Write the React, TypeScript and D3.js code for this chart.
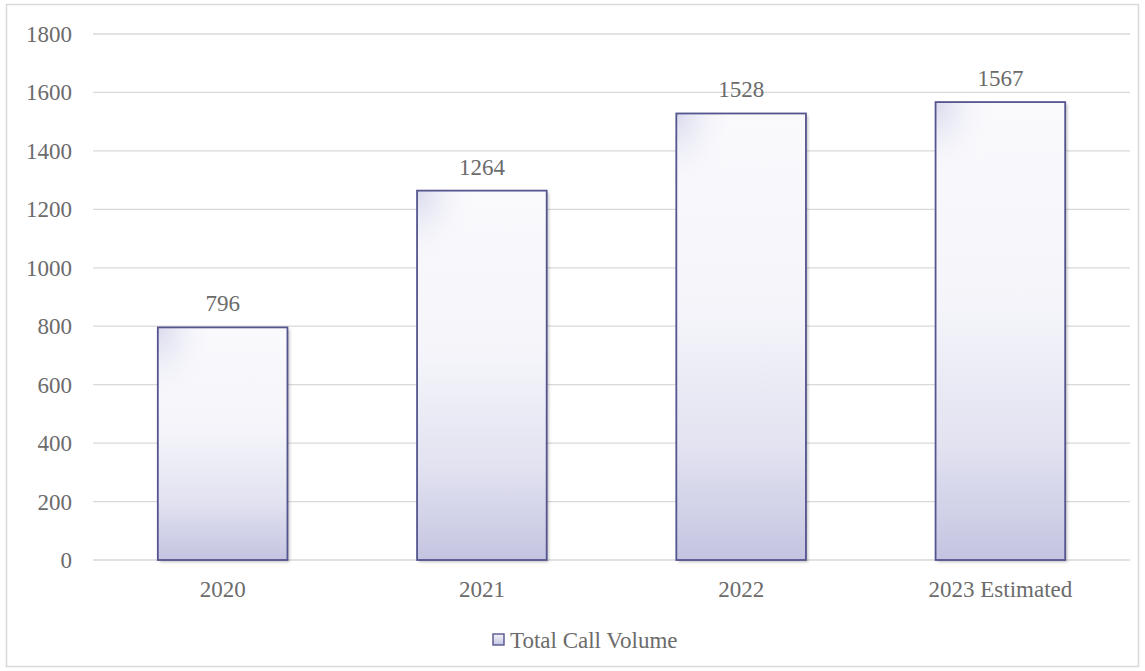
import React from "react";
import * as d3 from "d3";

const categories = ["2020", "2021", "2022", "2023 Estimated"];
const callVolume = [796, 1264, 1528, 1567];
const yTicks = [0, 200, 400, 600, 800, 1000, 1200, 1400, 1600, 1800];
const seriesName = "Total Call Volume";

const W = 1145;
const H = 671;
const plotLeft = 93;
const plotRight = 1130;
const plotTop = 34;
const plotBottom = 560;

export default function App() {
  const x = d3.scaleBand<string>().domain(categories).range([plotLeft, plotRight]).padding(0);
  const y = d3.scaleLinear().domain([0, 1800]).range([plotBottom, plotTop]);
  const bw = x.bandwidth() * 0.5;
  const font = "'Liberation Serif', 'Times New Roman', serif";
  const textColor = "#6b6b6b";
  const fs = 23;

  return (
    <div style={{ position: "absolute", left: 0, top: 0 }}>
      <svg width={W} height={H} style={{ display: "block" }}>
        <defs>
          <linearGradient id="barGrad" x1="0" y1="0" x2="0" y2="1">
            <stop offset="0" stopColor="#fafafd" />
            <stop offset="0.45" stopColor="#f4f4fa" />
            <stop offset="0.75" stopColor="#e2e2f1" />
            <stop offset="1" stopColor="#c4c4e1" />
          </linearGradient>
          <radialGradient id="cornerGrad" cx="0" cy="0" r="0.5" fx="0" fy="0">
            <stop offset="0" stopColor="#d6d6ec" stopOpacity="0.9" />
            <stop offset="1" stopColor="#ffffff" stopOpacity="0" />
          </radialGradient>
          <filter id="shadow" x="-10%" y="-10%" width="130%" height="130%">
            <feDropShadow dx="2" dy="2" stdDeviation="1.5" floodColor="#000" floodOpacity="0.25" />
          </filter>
          <linearGradient id="legGrad" x1="0" y1="0" x2="0" y2="1">
            <stop offset="0" stopColor="#f4f4fa" />
            <stop offset="1" stopColor="#c4c4e1" />
          </linearGradient>
        </defs>
        <rect x={0} y={0} width={W} height={H} fill="#fff" />
        <rect x={6.5} y={4.5} width={1132} height={662} fill="#fff" stroke="#d9d9d9" strokeWidth={1.5} />

        {yTicks.map((t) => (
          <g key={t}>
            <line x1={plotLeft} x2={plotRight} y1={y(t)} y2={y(t)} stroke="#d9d9d9" strokeWidth={1.3} />
            <text x={72} y={y(t)} dy="0.35em" textAnchor="end" fontFamily={font} fontSize={fs} fill={textColor}>
              {t}
            </text>
          </g>
        ))}

        {categories.map((c, i) => {
          const cx = (x(c) as number) + x.bandwidth() / 2;
          const top = y(callVolume[i]);
          const h = plotBottom - top;
          return (
            <g key={c}>
              <rect x={cx - bw / 2} y={top} width={bw} height={h} fill="url(#barGrad)" filter="url(#shadow)" />
              <rect x={cx - bw / 2} y={top} width={bw} height={Math.min(h, 180)} fill="url(#cornerGrad)" />
              <rect x={cx - bw / 2} y={top} width={bw} height={h} fill="none" stroke="#55558f" strokeWidth={1.8} />
              <text x={cx} y={top - 16} textAnchor="middle" fontFamily={font} fontSize={fs} fill={textColor}>
                {callVolume[i]}
              </text>
              <text x={cx} y={plotBottom + 37} textAnchor="middle" fontFamily={font} fontSize={fs} fill={textColor}>
                {c}
              </text>
            </g>
          );
        })}

        <g>
          <rect x={493} y={634} width={11} height={11} fill="url(#legGrad)" stroke="#55558f" strokeWidth={1.4} />
          <text x={510} y={648} fontFamily={font} fontSize={fs} fill={textColor}>
            {seriesName}
          </text>
        </g>
      </svg>
    </div>
  );
}
